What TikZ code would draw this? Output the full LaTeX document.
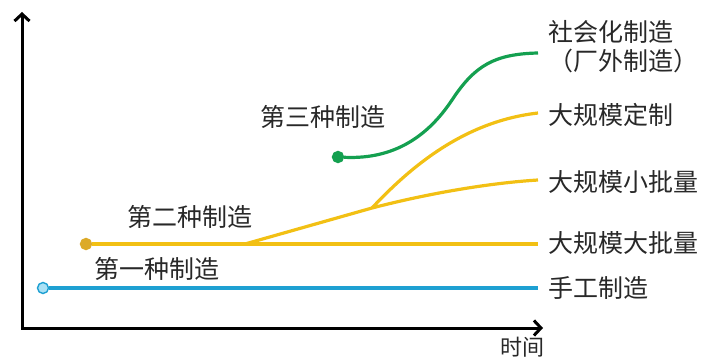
\documentclass[tikz,border=0pt]{standalone}
\usepackage{fontspec}
\setmainfont{Noto Sans CJK SC}
\usetikzlibrary{arrows.meta}
\definecolor{cblue}{RGB}{30,160,210}
\definecolor{cbluefill}{RGB}{170,225,245}
\definecolor{cyel}{RGB}{242,192,20}
\definecolor{cyeldot}{RGB}{220,170,40}
\definecolor{cgreen}{RGB}{20,160,80}
\definecolor{ctext}{RGB}{40,40,40}
\tikzset{
  lbl/.style={anchor=west,inner sep=4pt,text=ctext,font=\fontsize{25}{30}\selectfont},
  era/.style={inner sep=0pt,text=ctext,font=\fontsize{25}{30}\selectfont},
  axis/.style={line width=3pt,{Straight Barb[length=7pt,width=15pt]}-{Straight Barb[length=7pt,width=15pt]}},
  curve/.style={line width=3.2pt},
  dotnode/.style={circle,inner sep=0pt,minimum size=11pt,line width=1.4pt}
}
\begin{document}
\begin{tikzpicture}[x=1pt,y=-1pt]
\useasboundingbox (0,0) rectangle (711,363);
% axes
\coordinate (ytip) at (22,12);
\coordinate (xtip) at (543,328);
\draw[axis] (ytip) |- (xtip);
\node[era,font=\fontsize{22}{24}\selectfont] (time) at (522,347) {时间};
% labels on the right
\node[lbl] (lsocial) at (544,50) {\begin{tabular}{@{}l@{}}社会化制造\\[-1pt]（厂外制造）\end{tabular}};
\coordinate (social) at (538,53);
\node[lbl] (lcustom) at (544,115) {大规模定制};
\coordinate (custom) at (538,113);
\node[lbl] (lsmall) at (544,182) {大规模小批量};
\coordinate (small) at (538,180);
\node[lbl] (lmass) at (544,243) {大规模大批量};
\coordinate (mass) at (538,244);
\node[lbl] (lcraft) at (544,288) {手工制造};
\coordinate (craft) at (538,288);
% era labels
\node[era] (e1) at (157,269) {第一种制造};
\node[era] (e2) at (190,217) {第二种制造};
\node[era] (e3) at (323,117) {第三种制造};
% first: craft
\node[dotnode,draw=cblue,fill=cbluefill] (d1) at (43,288) {};
\draw[curve,cblue] (d1) -- (craft);
% second: mass
\node[dotnode,draw=cyeldot,fill=cyeldot] (d2) at (86,244) {};
\coordinate (split1) at (245,244);
\coordinate (split2) at (372,208);
\draw[curve,cyel] (d2) -- (mass);
\draw[curve,cyel] (split1) -- (split2) .. controls (430,193) and (490,183) .. (small);
\draw[curve,cyel] (split2) .. controls (415,162) and (468,121) .. (custom);
% third: social
\node[dotnode,draw=cgreen,fill=cgreen] (d3) at (338,157) {};
\coordinate (g1) at (452,100);
\draw[curve,cgreen] (d3) .. controls (400,160) and (432,130) .. (g1) .. controls (475,65) and (495,54) .. (social);
\end{tikzpicture}
\end{document}
